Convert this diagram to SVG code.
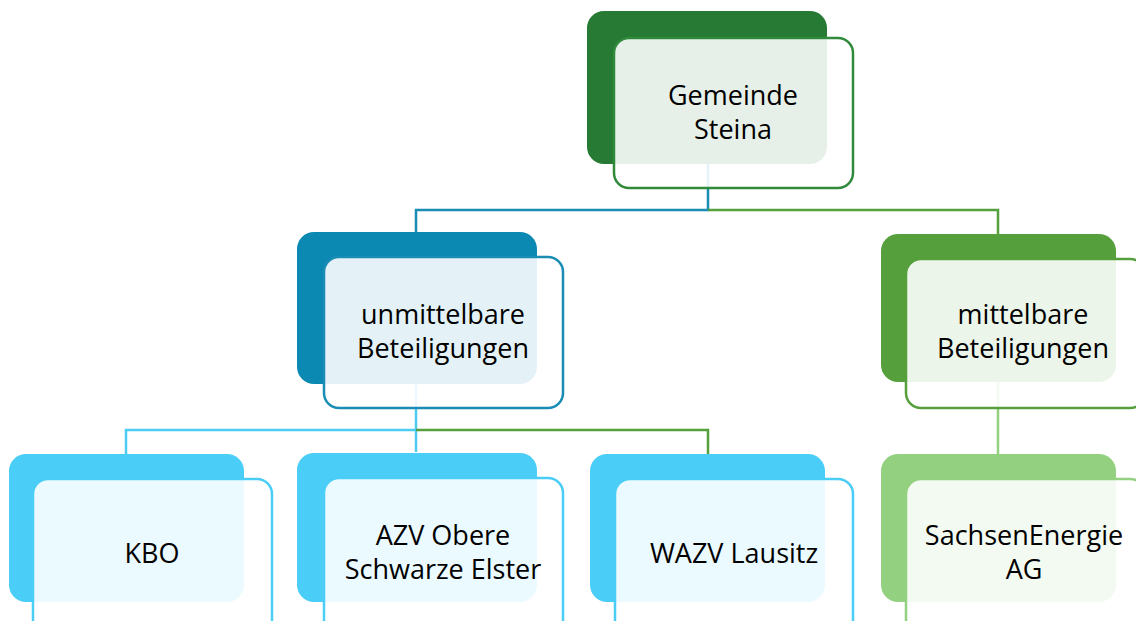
<svg xmlns="http://www.w3.org/2000/svg" width="1136" height="621" viewBox="0 0 1136 621">
<style>
.lbl{font-family:"Open Sans","Noto Sans",sans-serif;font-size:27px;fill:#000;text-anchor:middle}
.front{fill:#fff;fill-opacity:0.89;stroke-width:2.5}
.ln{fill:none;stroke-width:2.5}
</style>
<rect width="1136" height="621" fill="#fff"/>
<g id="connectors">
<path class="ln" stroke="#1a8db5" d="M708 164 V210 H416 V232"/>
<path class="ln" stroke="#559f3c" d="M708 210 H998 V234"/>
<path class="ln" stroke="#4ecbf3" d="M416 384 V452 M416 430 H126 V454"/>
<path class="ln" stroke="#559f3c" d="M416 430 H708 V454"/>
<path class="ln" stroke="#93d07f" d="M998 382 V454"/>
</g>
<g id="gemeinde">
<rect x="587" y="11" width="240" height="153" rx="17" fill="#267a33"/>
<rect class="front" x="614" y="38" width="239" height="150" rx="15" stroke="#2f8a3c"/>
<text class="lbl" x="733" y="105">Gemeinde</text>
<text class="lbl" x="733" y="139">Steina</text>
</g>
<g id="unmittelbar">
<rect x="297" y="232" width="240" height="152" rx="17" fill="#0b89b3"/>
<rect class="front" x="324" y="257" width="239" height="151" rx="15" stroke="#1a8db5"/>
<text class="lbl" x="443" y="324">unmittelbare</text>
<text class="lbl" x="443" y="358">Beteiligungen</text>
</g>
<g id="mittelbar">
<rect x="881" y="234" width="235" height="148" rx="17" fill="#559f3c"/>
<rect class="front" x="906" y="259" width="239" height="149" rx="15" stroke="#559f3c"/>
<text class="lbl" x="1023" y="324">mittelbare</text>
<text class="lbl" x="1023" y="358">Beteiligungen</text>
</g>
<g id="kbo">
<rect x="9" y="454" width="235" height="148" rx="17" fill="#4acdf7"/>
<rect class="front" x="33" y="479" width="239" height="160" rx="15" stroke="#4acdf7"/>
<text class="lbl" x="152" y="563">KBO</text>
</g>
<g id="azv">
<rect x="297" y="453" width="240" height="149" rx="17" fill="#4acdf7"/>
<rect class="front" x="324" y="478" width="239" height="160" rx="15" stroke="#4acdf7"/>
<text class="lbl" x="443" y="545">AZV Obere</text>
<text class="lbl" x="443" y="579">Schwarze Elster</text>
</g>
<g id="wazv">
<rect x="590" y="454" width="235" height="148" rx="17" fill="#4acdf7"/>
<rect class="front" x="615" y="479" width="238" height="160" rx="15" stroke="#4acdf7"/>
<text class="lbl" x="734" y="563">WAZV Lausitz</text>
</g>
<g id="sachsenenergie">
<rect x="881" y="454" width="235" height="148" rx="17" fill="#93d07f"/>
<rect class="front" x="906" y="479" width="239" height="160" rx="15" stroke="#93d07f"/>
<text class="lbl" x="1024" y="545">SachsenEnergie</text>
<text class="lbl" x="1024" y="579">AG</text>
</g>
</svg>
